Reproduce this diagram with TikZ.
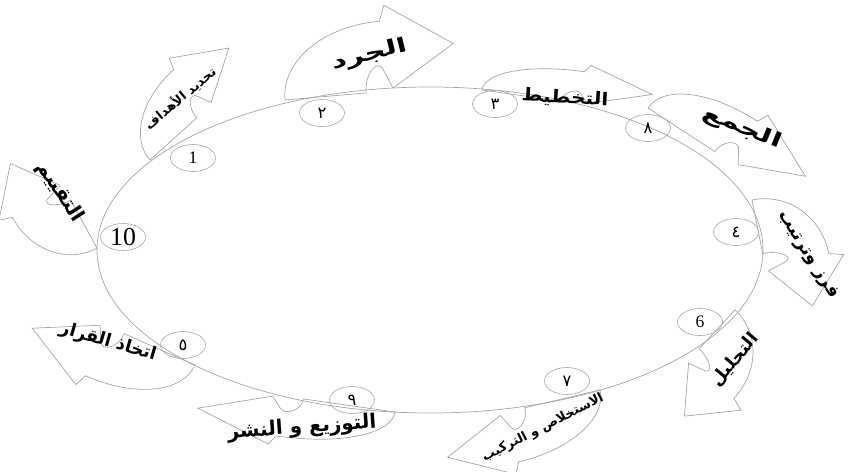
\documentclass[tikz,border=0pt]{standalone}
\usepackage{graphicx}
\usepackage{fontspec}
\setmainfont{Liberation Serif}
\newfontfamily\arabicfont[Script=Arabic]{DejaVu Sans}
\TeXXeTstate=1
\usetikzlibrary{shapes.geometric}

\begin{document}
\begin{tikzpicture}[
            x=0.03cm, y=-0.03cm,
            % Stili
            ring/.style={ellipse, draw=gray!70, line width=0.6pt, minimum width=19.98cm, minimum height=9.78cm},
            numbox/.style={ellipse, draw=gray!70, line width=0.5pt, minimum width=1.35cm, minimum height=0.81cm, inner sep=0pt, font=\arabicfont\fontsize{14}{14}\selectfont},
            latinnum/.style={numbox, font=\fontsize{15}{15}\selectfont},
            steplabel/.style={inner sep=0pt, font=\arabicfont\bfseries\fontsize{15}{15}\selectfont},
            biglabel/.style={steplabel, font=\arabicfont\bfseries\fontsize{17}{17}\selectfont},
            smalllabel/.style={steplabel, font=\arabicfont\bfseries\fontsize{11}{11}\selectfont},
            bentarrow/.pic={
                \draw[draw=gray!70, line width=0.6pt, x=0.03cm, y=0.03cm]
                    (0,0) .. controls (0,30) and (45,54) .. (104,54) -- (110,66) -- (178,32)
                    -- (112,2) -- (104,16) .. controls (100,26) and (84,16) .. (84,0) -- cycle;
            }
        ]
        \useasboundingbox (0,0) rectangle (857,472);

        % Ciclo
        \node (ring) [ring] at (430,250) {};

        % Frecce
        \pic[rotate=42, xscale=0.75, yscale=0.95] at (150,160) {bentarrow};
        \pic[rotate=5, xscale=0.97, yscale=1.3] at (285,100) {bentarrow};
        \pic[rotate=-8, xscale=0.95, yscale=0.6] at (482,90) {bentarrow};
        \pic[rotate=-33.1, xscale=0.95, yscale=0.9] at (648,108) {bentarrow};
        \pic[rotate=-78.7, xscale=0.65, yscale=1.2] at (752,200) {bentarrow};
        \pic[rotate=-132.9, xscale=0.63, yscale=1.1] at (735,310) {bentarrow};
        \pic[rotate=-166.7, xscale=0.92, yscale=0.95] at (600,390) {bentarrow};
        \pic[rotate=171.9, xscale=1.1, yscale=0.75] at (395,412) {bentarrow};
        \pic[rotate=156.2, xscale=0.92] at (195,365) {bentarrow};
        \pic[rotate=118.8, xscale=0.65, yscale=1.1] at (97,248) {bentarrow};

        % Testi
        \node (goals) [smalllabel, rotate=40] at (180,98) {\beginR تحديد الأهداف\endR};
        \node (inventory) [biglabel, rotate=14] at (370,55) {\scalebox{1.5}[1]{\beginR الجرد\endR}};
        \node (planning) [steplabel, rotate=-3] at (565,98) {\scalebox{1.15}[1]{\beginR التخطيط\endR}};
        \node (collect) [biglabel, rotate=-22] at (742,128) {\scalebox{1.5}[1]{\beginR الجمع\endR}};
        \node (sorting) [steplabel, rotate=-58] at (808,255) {\beginR فرز وترتيب\endR};
        \node (analysis) [steplabel, rotate=50] at (735,360) {\beginR التحليل\endR};
        \node (synthesis) [smalllabel, rotate=27] at (543,428) {\beginR الاستخلاص و التركيب\endR};
        \node (spread) [biglabel, rotate=4] at (302,428) {\beginR التوزيع و النشر\endR};
        \node (decision) [steplabel, rotate=-16] at (108,342) {\beginR اتخاذ القرار\endR};
        \node (review) [biglabel, rotate=-57] at (60,192) {\beginR التقييم\endR};

        % Numeri
        \node (n1) [latinnum] at (193,158) {1};
        \node (n2) [numbox] at (322,113) {٢};
        \node (n3) [numbox] at (495,104) {٣};
        \node (n4) [numbox] at (648,128) {٨};
        \node (n5) [numbox] at (736,232) {٤};
        \node (n6) [latinnum] at (700,322) {6};
        \node (n7) [numbox] at (567,381) {٧};
        \node (n8) [numbox] at (352,400) {٩};
        \node (n9) [numbox] at (183,345) {٥};
        \node (n10) [numbox, font=\fontsize{22}{22}\selectfont] at (123,237) {10};

    \end{tikzpicture}
\end{document}
